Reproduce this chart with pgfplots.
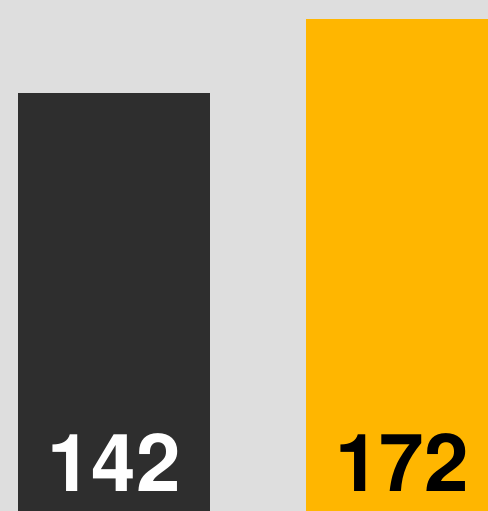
\documentclass[border=0pt]{standalone}
\usepackage{pgfplots}
\pgfplotsset{compat=1.18}
\usepackage{fontspec}
\setmainfont{TeX Gyre Heros}
\definecolor{bgc}{HTML}{DEDEDE}
\definecolor{darkc}{HTML}{2E2E2E}
\definecolor{orangec}{HTML}{FFB600}
\begin{document}
\begin{tikzpicture}
\begin{axis}[
  scale only axis, width=488bp, height=511bp,
  axis line style={draw=none}, ticks=none,
  axis background/.style={fill=bgc},
  y coord trafo/.code={\pgfmathparse{#1+27.4}},
  y coord inv trafo/.code={\pgfmathparse{#1-27.4}},
  xmin=-0.3958, xmax=1.2986, ymin=-27.4, ymax=179.8,
  ybar, bar width=192bp,
]
\addplot[fill=darkc, draw=none, bar shift=0pt] coordinates {(0,142)};
\addplot[fill=orangec, draw=none, bar shift=0pt] coordinates {(1,172)};
\node[anchor=base, text=white, font=\fontsize{80bp}{80bp}\selectfont\bfseries, yshift=20bp] at (axis cs:0,-27.4) {142};
\node[anchor=base, text=black, font=\fontsize{80bp}{80bp}\selectfont\bfseries, yshift=20bp] at (axis cs:1,-27.4) {172};
\end{axis}
\end{tikzpicture}
\end{document}
